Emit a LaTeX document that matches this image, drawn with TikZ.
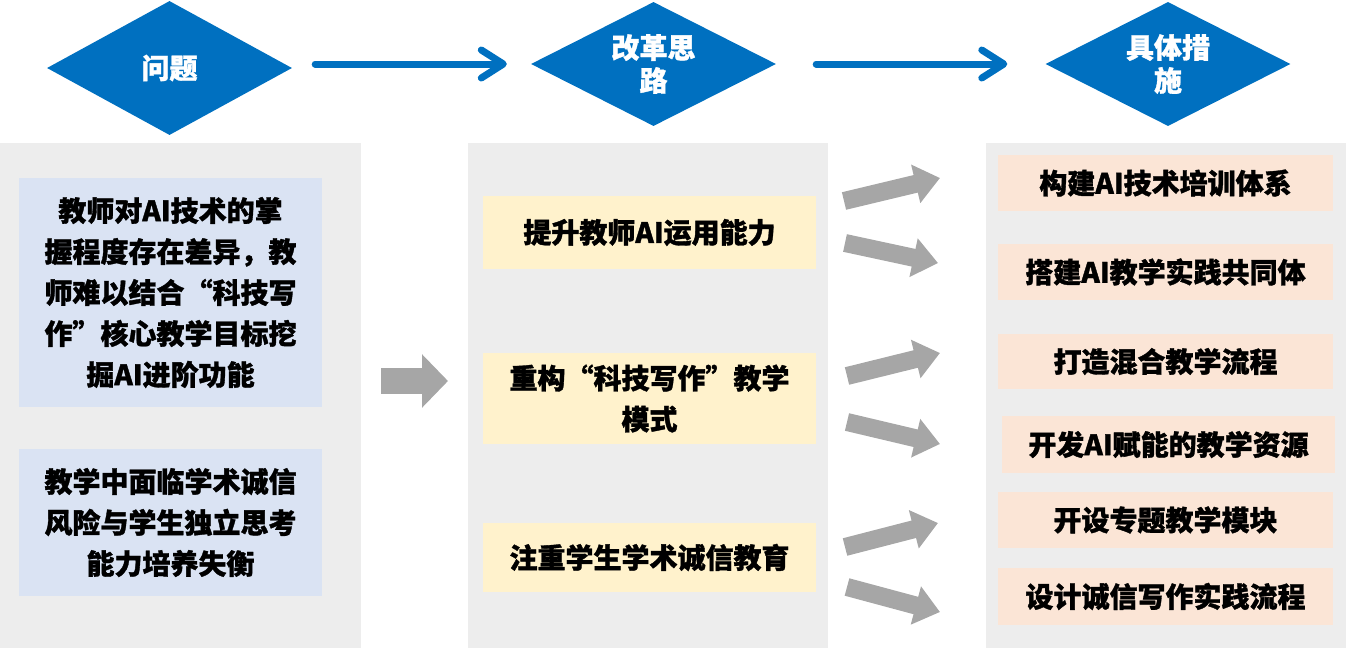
\documentclass[tikz,border=0pt]{standalone}
\usepackage{fontspec}
\setmainfont{Noto Sans CJK SC}[BoldFeatures={FakeBold=1.2}]
\usetikzlibrary{shapes, arrows.meta, positioning, calc}
\definecolor{diablue}{RGB}{0, 112, 192}
\definecolor{panelgray}{RGB}{237, 237, 237}
\definecolor{probblue}{RGB}{218, 227, 243}
\definecolor{ideayellow}{RGB}{255, 242, 204}
\definecolor{steppink}{RGB}{251, 229, 214}
\definecolor{arrowgray}{RGB}{166, 166, 166}

\begin{document}
\begin{tikzpicture}[x=1pt, y=-1pt,
  diabox/.style={diamond, aspect=2, fill=diablue, inner sep=0pt, minimum width=245pt, minimum height=124pt, text=white, align=center, font=\bfseries\fontsize{28}{33}\selectfont},
  panel/.style={fill=panelgray, inner sep=0pt, minimum width=360pt, minimum height=505pt},
  textbox/.style={inner sep=0pt, align=center, font=\bfseries\fontsize{28}{41}\selectfont},
  flowarrow/.style={draw=diablue, line width=7pt, line cap=round, -{Straight Barb[round, length=22pt, width=28pt]}},
  fatarrow/.style={draw=arrowgray, line width=18pt, -{Triangle[width=38pt, length=25pt]}},
  bigarrow/.style={draw=arrowgray, line width=26pt, -{Triangle[width=52pt, length=26pt]}}
]
  \useasboundingbox (0, 0) rectangle (1346, 651);

  % Panels
  \node[panel, minimum width=361pt] (p1) at (180.5, 395.5) {};
  \node[panel] (p2) at (648, 395.5) {};
  \node[panel] (p3) at (1166, 395.5) {};

  % Headings
  \node[diabox, minimum height=134pt] (d1) at (169.5, 68) {问题};
  \node[diabox] (d2) at (653.5, 64) {改革思\\路};
  \node[diabox] (d3) at (1168, 64) {具体措\\施};

  \draw[flowarrow, shorten <=23pt, shorten >=24pt] (d2.west -| d1.east) -- (d2.west);
  \draw[flowarrow, shorten <=40pt, shorten >=38pt] (d2.east) -- (d3.west);

  % Problems
  \node[textbox, fill=probblue, minimum width=303pt, minimum height=229pt] (b1) at (170.5, 292.5) {
    教师对AI技术的掌\\
    握程度存在差异，教\\
    师难以结合“科技写\\
    作”核心教学目标挖\\
    掘AI进阶功能
  };
  \node[textbox, fill=probblue, minimum width=303pt, minimum height=147pt] (b2) at (170.5, 522.5) {
    教学中面临学术诚信\\
    风险与学生独立思考\\
    能力培养失衡
  };

  \coordinate (g1) at (381, 381);
  \coordinate (g2) at (448, 381);
  \draw[bigarrow] (g1) -- (g2);

  % Reform ideas
  \node[textbox, fill=ideayellow, minimum width=333pt, minimum height=73pt] (y1) at (649.5, 232.5) {提升教师AI运用能力};
  \node[textbox, fill=ideayellow, minimum width=333pt, minimum height=91pt] (y2) at (649.5, 398.5) {
    重构“科技写作”教学\\
    模式
  };
  \node[textbox, fill=ideayellow, minimum width=333pt, minimum height=69pt] (y3) at (649.5, 557.5) {注重学生学术诚信教育};

  % Measures
  \node[textbox, fill=steppink, minimum width=335pt, minimum height=56pt] (m1) at (1165.5, 183) {构建AI技术培训体系};
  \node[textbox, fill=steppink, minimum width=335pt, minimum height=56pt] (m2) at (1165.5, 272) {搭建AI教学实践共同体};
  \node[textbox, fill=steppink, minimum width=335pt, minimum height=55pt] (m3) at (1165.5, 361.5) {打造混合教学流程};
  \node[textbox, fill=steppink, minimum width=333pt, minimum height=57pt] (m4) at (1168.5, 444.5) {开发AI赋能的教学资源};
  \node[textbox, fill=steppink, minimum width=335pt, minimum height=56pt] (m5) at (1165.5, 520) {开设专题教学模块};
  \node[textbox, fill=steppink, minimum width=335pt, minimum height=57pt] (m6) at (1165.5, 596.5) {设计诚信写作实践流程};

  % Idea to measure arrows
  \coordinate (t1) at (844, 201); \coordinate (h1) at (940, 178);
  \coordinate (t2) at (845, 243); \coordinate (h2) at (938, 263);
  \coordinate (t3) at (847, 376); \coordinate (h3) at (940, 353);
  \coordinate (t4) at (847, 422); \coordinate (h4) at (940, 444);
  \coordinate (t5) at (845, 547); \coordinate (h5) at (938, 523);
  \coordinate (t6) at (847, 587); \coordinate (h6) at (940, 612);
  \draw[fatarrow] (t1) -- (h1);
  \draw[fatarrow] (t2) -- (h2);
  \draw[fatarrow] (t3) -- (h3);
  \draw[fatarrow] (t4) -- (h4);
  \draw[fatarrow] (t5) -- (h5);
  \draw[fatarrow] (t6) -- (h6);
\end{tikzpicture}
\end{document}
